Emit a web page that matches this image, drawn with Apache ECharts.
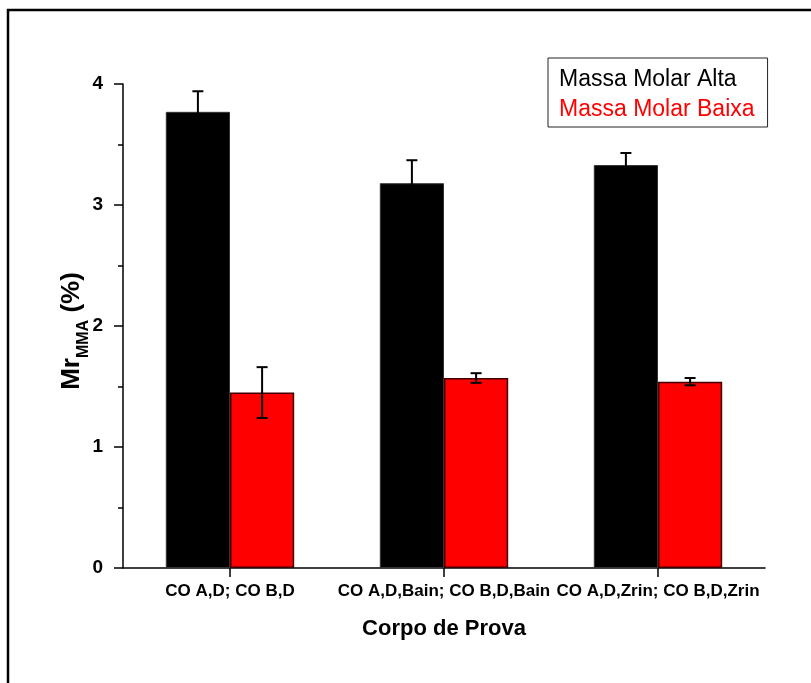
<!DOCTYPE html>
<html>
<head>
<meta charset="utf-8">
<script src="https://cdn.jsdelivr.net/npm/echarts@6/dist/echarts.min.js"></script>
<style>
  html, body { margin: 0; padding: 0; background: #fff; }
  #chart { width: 811px; height: 683px; }
</style>
</head>
<body>
<div id="chart"></div>
<script>
// Sample groups along the x axis
var categories = ['CO A,D; CO B,D', 'CO A,D,Bain; CO B,D,Bain', 'CO A,D,Zrin; CO B,D,Zrin'];
// High molar mass: mean and standard deviation
var altaValues = [3.77, 3.18, 3.33];
var altaErrors = [0.17, 0.19, 0.10];
// Low molar mass: mean and standard deviation
var baixaValues = [1.45, 1.57, 1.54];
var baixaErrors = [0.21, 0.04, 0.03];
// Y axis ticks
var yTicks = [0, 1, 2, 3, 4];

var FONT = '"Liberation Sans", Arial, sans-serif';

function errorData(values, errors) {
  return values.map(function (v, i) { return [i, v, errors[i]]; });
}

// Draws a vertical error bar with caps, shifted to sit over its bar
function errorRenderer(shiftRatio) {
  return function (params, api) {
    var idx = api.value(0);
    var v = api.value(1);
    var e = api.value(2);
    var band = api.size([1, 0])[0];
    var x = api.coord([idx, v])[0] + band * shiftRatio;
    var yTop = api.coord([idx, v + e])[1];
    var yBot = api.coord([idx, v - e])[1];
    var cap = 5.5;
    var style = { stroke: '#000', lineWidth: 2 };
    return {
      type: 'group',
      children: [
        { type: 'line', shape: { x1: x, y1: yTop, x2: x, y2: yBot }, style: style },
        { type: 'line', shape: { x1: x - cap, y1: yTop, x2: x + cap, y2: yTop }, style: style },
        { type: 'line', shape: { x1: x - cap, y1: yBot, x2: x + cap, y2: yBot }, style: style }
      ]
    };
  };
}

var chart = echarts.init(document.getElementById('chart'), null, { renderer: 'canvas' });

chart.setOption({
  animation: false,
  backgroundColor: '#fff',
  textStyle: { fontFamily: FONT },
  graphic: [{
    type: 'rect',
    shape: { x: 8, y: 10, width: 900, height: 800 },
    style: { fill: 'none', stroke: '#000', lineWidth: 2.5 },
    silent: true,
    z: -10
  }],
  legend: {
    orient: 'vertical',
    left: 548,
    top: 58,
    padding: [10, 13, 6, 5],
    itemGap: 7,
    itemWidth: 0,
    itemHeight: 0,
    icon: 'rect',
    borderColor: '#222',
    borderWidth: 1,
    backgroundColor: '#fff',
    selectedMode: false,
    textStyle: { fontFamily: FONT, fontSize: 23 },
    data: [
      { name: 'Massa Molar Alta', textStyle: { color: '#000' } },
      { name: 'Massa Molar Baixa', textStyle: { color: '#ff0000' } }
    ]
  },
  grid: { left: 123, right: 46, top: 84, bottom: 115 },
  xAxis: {
    type: 'category',
    data: categories,
    boundaryGap: true,
    name: 'Corpo de Prova',
    nameLocation: 'middle',
    nameGap: 50,
    nameMoveOverlap: false,
    nameTextStyle: { fontFamily: FONT, fontSize: 22, fontWeight: 'bold', color: '#000' },
    axisLine: { lineStyle: { color: '#000', width: 1.5 } },
    axisTick: { show: true, alignWithLabel: true, length: 9, lineStyle: { color: '#000', width: 1.5 } },
    axisLabel: { fontFamily: FONT, fontSize: 17, fontWeight: 'bold', color: '#000', margin: 15, interval: 0 },
    splitLine: { show: false }
  },
  yAxis: {
    type: 'value',
    min: yTicks[0],
    max: yTicks[yTicks.length - 1],
    interval: 1,
    name: '{m|Mr}{s|MMA}{m| (%)}',
    nameLocation: 'middle',
    nameGap: 38,
    nameMoveOverlap: false,
    nameTextStyle: {
      fontFamily: FONT,
      fontWeight: 'bold',
      color: '#000',
      padding: [0, 10, 0, 0],
      rich: {
        m: { fontFamily: FONT, fontSize: 26, fontWeight: 'bold', color: '#000' },
        s: { fontFamily: FONT, fontSize: 16, fontWeight: 'bold', color: '#000', verticalAlign: 'bottom', padding: [0, 0, -7, 0] }
      }
    },
    axisLine: { show: true, lineStyle: { color: '#000', width: 1.5 } },
    axisTick: { show: true, inside: false, length: 9, lineStyle: { color: '#000', width: 1.5 } },
    minorTick: { show: true, splitNumber: 2, length: 5, lineStyle: { color: '#000', width: 1.5 } },
    axisLabel: { fontFamily: FONT, fontSize: 19, fontWeight: 'bold', color: '#000', margin: 20 },
    splitLine: { show: false }
  },
  series: [
    {
      name: 'Massa Molar Alta',
      type: 'bar',
      data: altaValues,
      barWidth: '30%',
      barGap: '0%',
      itemStyle: { color: '#000', borderColor: '#333', borderWidth: 1 }
    },
    {
      name: 'Massa Molar Baixa',
      type: 'bar',
      data: baixaValues,
      barWidth: '30%',
      barGap: '0%',
      itemStyle: { color: '#ff0000', borderColor: '#400000', borderWidth: 1.5 }
    },
    {
      name: 'altaErr',
      type: 'custom',
      renderItem: errorRenderer(-0.15),
      data: errorData(altaValues, altaErrors),
      encode: { x: 0, y: 1 },
      z: 5,
      silent: true
    },
    {
      name: 'baixaErr',
      type: 'custom',
      renderItem: errorRenderer(0.15),
      data: errorData(baixaValues, baixaErrors),
      encode: { x: 0, y: 1 },
      z: 5,
      silent: true
    }
  ]
});
</script>
</body>
</html>
